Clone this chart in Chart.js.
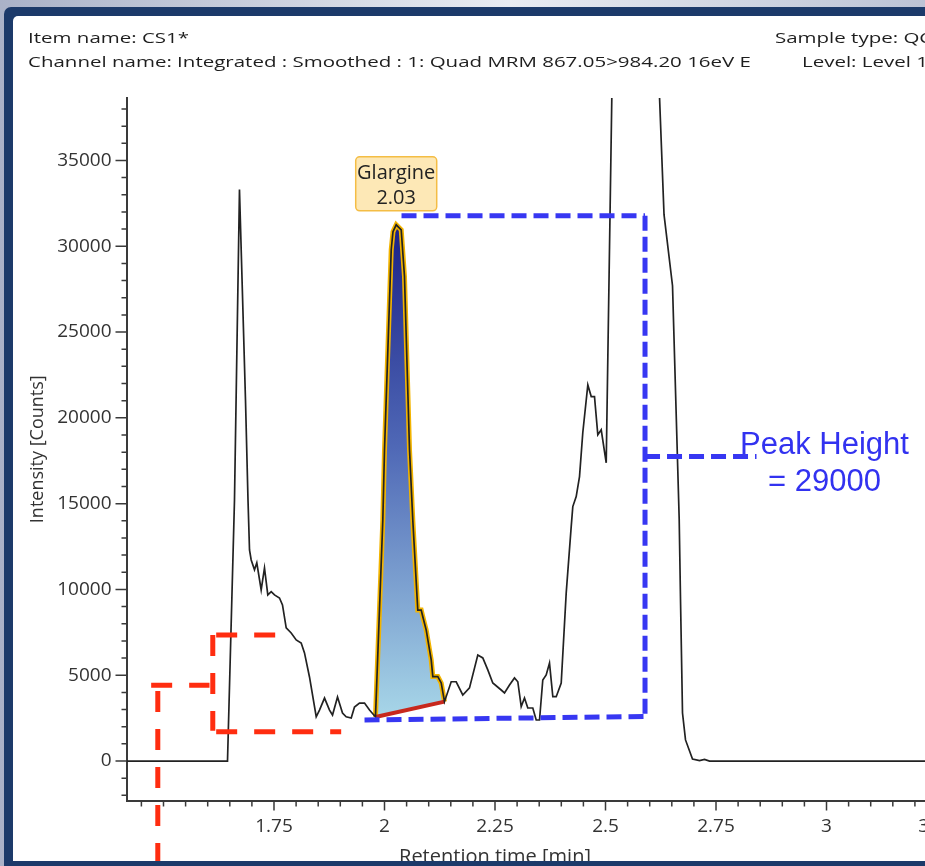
<!DOCTYPE html>
<html>
<head>
<meta charset="utf-8">
<title>Glargine peak height</title>
<script src="https://cdn.jsdelivr.net/npm/chart.js@4.4.1/dist/chart.umd.min.js"></script>
<style>
html, body { margin: 0; padding: 0; width: 925px; height: 866px; overflow: hidden; }
body { position: relative; background: linear-gradient(90deg, #aab2c8 0%, #e9ecf2 55%, #bcc3d5 100%); }
#frame { position: absolute; left: 4px; top: 7px; width: 960px; height: 880px; background: #1c3a6a; border-top-left-radius: 7px; }
#panel { position: absolute; left: 13px; top: 16px; width: 930px; height: 845px; background: #fff; border-top-left-radius: 5px; overflow: hidden; }
#chartbox { position: absolute; left: -13px; top: -16px; width: 1000px; height: 866px; }
.hdr { position: absolute; font: 15px/20px 'Open Sans', sans-serif; color: #1e1e1e; white-space: nowrap; transform-origin: 0 0; }
</style>
</head>
<body>
<div id="frame"></div>
<div id="panel"><div id="chartbox"><canvas id="chart"></canvas></div></div>
<div class="hdr" style="left:28px;top:27px">Item name: CS1*</div>
<div class="hdr" id="chan" style="left:28px;top:51px">Channel name: Integrated : Smoothed : 1: Quad MRM 867.05&gt;984.20 16eV E</div>
<div class="hdr" style="left:775px;top:27px">Sample type: QC</div>
<div class="hdr" style="left:802px;top:51px">Level: Level 1</div>
<script>
// retention time [min] and intensity [counts]
const times = [1.4163, 1.6448, 1.6606, 1.6719, 1.6855, 1.6912, 1.6946, 1.6984, 1.7059, 1.7111,
  1.7210, 1.7285, 1.7360, 1.7437, 1.7511, 1.7624, 1.7692, 1.7776, 1.7889, 1.8002,
  1.8115, 1.8190, 1.8303, 1.8455, 1.8529, 1.8643, 1.8756, 1.8824, 1.8937, 1.9050,
  1.9133, 1.9247, 1.9321, 1.9434, 1.9548, 1.9661, 1.9796,
  1.9962, 2.0000, 2.0152, 2.0192, 2.0265, 2.0378, 2.0452, 2.0566, 2.0640, 2.0753,
  2.0830, 2.0867, 2.0943, 2.1057, 2.1093, 2.1206, 2.1283, 2.1357,
  2.1509, 2.1622, 2.1771, 2.1923, 2.2111, 2.2224, 2.2337, 2.2450, 2.2640, 2.2715,
  2.2828, 2.2941, 2.3016, 2.3093, 2.3167, 2.3242, 2.3355, 2.3432, 2.3507, 2.3581,
  2.3658, 2.3733, 2.3808, 2.3885, 2.3998, 2.4111, 2.4224, 2.4260, 2.4337, 2.4412,
  2.4486, 2.4600, 2.4677, 2.4751, 2.4826, 2.4903, 2.5016,
  2.5452, 2.6324, 2.6516, 2.6667, 2.6697, 2.6742, 2.6810, 2.6968, 2.7127, 2.7240,
  2.7353, 3.3925];
const counts = [0, 0, 15200, 33300, 21050, 15200, 12300, 11720, 11140, 11550,
  9970, 11250, 9680, 9870, 9680, 9500, 9100, 7760, 7460, 7060,
  6880, 6300, 4900, 2580, 2970, 3670, 2970, 2680, 3730, 2800,
  2580, 2510, 3150, 3380, 3380, 2970, 2570,
  14050, 18130, 29800, 30850, 31250, 30960, 28240, 18130, 14050, 8800,
  8800, 8410, 7640, 5890, 4920, 4920, 4550, 3460,
  4620, 4620, 3850, 4260, 6180, 6010, 5310, 4550, 4140, 3970,
  4430, 4840, 4620, 3170, 3670, 3090, 3090, 2390, 2390, 4720,
  5020, 5710, 3750, 3750, 4550, 9800, 13660, 14830, 15410, 16580,
  19130, 21920, 21240, 21240, 19010, 19300, 17380,
  90600, 31840, 27700, 14110, 9390, 2800, 1230, 120, 30, 90,
  0, 0];

// integrated peak
const peakName = 'Glargine';
const peakRT = '2.03';
const peakStart = 1.9796;
const peakEnd = 2.1357;
const peakHeight = 29000;

// axis ranges and ticks
const xRange = [1.4163, 3.3925];
const yRange = [-2300, 38640];
const xTicks = [1.75, 2, 2.25, 2.5, 2.75, 3, 3.25];
const yTicks = [0, 5000, 10000, 15000, 20000, 25000, 30000, 35000];
const xMinor = 0.05, yMinor = 1000;

// hand-drawn markup, in [time, counts]
const blueBox = [[2.0385, 31780], [2.5894, 31780], [2.5894, 2595], [1.9548, 2391]];
const blueStub = [[2.5894, 17750], [2.8416, 17750]];
const blueText = [[2.9955, 17901, 'Peak Height'], [2.9955, 15744, '= ' + peakHeight]];
const redLines = [
  [[1.4721, 4414], [1.6041, 4414]],
  [[1.4871, 4082], [1.4871, -6200]],
  [[1.6115, 7347], [1.6115, 1767]],
  [[1.6192, 7347], [1.7534, 7347]],
  [[1.6192, 1709], [1.9020, 1709]]
];

// header text is drawn wide in the reference
const chan = document.getElementById('chan');
const sx = 723 / chan.getBoundingClientRect().width;
document.querySelectorAll('.hdr').forEach(h => h.style.transform = `scaleX(${sx})`);

const trace = times.map((t, i) => ({x: t, y: counts[i]}));
const peak = trace.filter(p => p.x >= peakStart && p.x <= peakEnd);
const baseline = [peak[0], peak[peak.length - 1]].map(p => ({x: p.x, y: p.y}));
const apex = peak.reduce((a, b) => (b.y > a.y ? b : a));

function peakGradient(c) {
    const chart = c.chart;
    if (!chart.chartArea) return '#5a74ba';
    const y = chart.scales.y;
    const g = chart.ctx.createLinearGradient(0, y.getPixelForValue(apex.y), 0, y.getPixelForValue(baseline[0].y));
    g.addColorStop(0, '#1b2187');
    g.addColorStop(0.45, '#4f68b6');
    g.addColorStop(1, '#a7d6e8');
    return g;
}

function dashed(ctx, pts, color, width, dash) {
    ctx.beginPath();
    ctx.setLineDash(dash);
    ctx.strokeStyle = color;
    ctx.lineWidth = width;
    ctx.lineCap = 'butt';
    pts.forEach((p, i) => (i ? ctx.lineTo(p[0], p[1]) : ctx.moveTo(p[0], p[1])));
    ctx.stroke();
}

const isMajor = (list, v) => list.some(m => Math.abs(m - v) < 1e-6);

// ===== minor ticks, peak label, markup =====
const decorations = {
    id: 'decorations',
    afterDraw(chart) {
        const {ctx, scales: {x, y}} = chart;
        const px = t => x.getPixelForValue(t);
        const py = v => y.getPixelForValue(v);
        ctx.save();

        // tick marks (major long, minor short)
        ctx.strokeStyle = '#3a3a3a';
        ctx.lineWidth = 1.5;
        ctx.beginPath();
        for (let i = Math.ceil(x.min / xMinor); i * xMinor <= x.max; i++) {
            const t = i * xMinor, X = px(t);
            ctx.moveTo(X, x.top);
            ctx.lineTo(X, x.top + (isMajor(xTicks, t) ? 10 : 6));
        }
        for (let i = Math.ceil(y.min / yMinor); i * yMinor <= y.max; i++) {
            const v = i * yMinor, Y = py(v);
            ctx.moveTo(y.right, Y);
            ctx.lineTo(y.right - (isMajor(yTicks, v) ? 11 : 5), Y);
        }
        ctx.stroke();

        // x axis title
        ctx.fillStyle = '#333';
        ctx.font = '20px "Open Sans"';
        ctx.textAlign = 'center';
        ctx.textBaseline = 'alphabetic';
        ctx.fillText('Retention time [min]', 495, 863);

        // peak label
        const ax = px(apex.x), ay = py(apex.y);
        const w = 81, h = 54, r = 4, bx = ax - w / 2, by = ay - 14 - h;
        ctx.beginPath();
        ctx.moveTo(bx + r, by);
        ctx.arcTo(bx + w, by, bx + w, by + h, r);
        ctx.arcTo(bx + w, by + h, bx, by + h, r);
        ctx.arcTo(bx, by + h, bx, by, r);
        ctx.arcTo(bx, by, bx + w, by, r);
        ctx.closePath();
        ctx.fillStyle = '#fde8b6';
        ctx.fill();
        ctx.strokeStyle = '#f4bd45';
        ctx.lineWidth = 1.5;
        ctx.stroke();
        ctx.fillStyle = '#222';
        ctx.font = '20px "Open Sans"';
        ctx.fillText(peakName, ax, by + 22);
        ctx.fillText(peakRT, ax, by + 47);

        // markup
        const toPx = pts => pts.map(p => [px(p[0]), py(p[1])]);
        const blue = '#3737f2';
        dashed(ctx, toPx(blueBox.slice(0, 2)), blue, 5, [15, 7]);
        dashed(ctx, toPx(blueBox.slice(1, 3)), blue, 5, [15, 6]);
        dashed(ctx, toPx([blueBox[3], blueBox[2]]), blue, 5, [15, 7]);
        dashed(ctx, toPx(blueStub), blue, 5, [15, 7]);
        redLines.forEach(l => dashed(ctx, toPx(l), '#ff2d10', 5, [21, 17]));

        ctx.setLineDash([]);
        ctx.fillStyle = '#3232f0';
        ctx.font = '31px "Liberation Sans"';
        blueText.forEach(tx => ctx.fillText(tx[2], px(tx[0]), py(tx[1])));
        ctx.restore();
    }
};

const tickFont = {family: 'Open Sans', size: 19};

new Chart(document.getElementById('chart'), {
    type: 'line',
    data: {
        datasets: [
            { label: 'Trace', data: trace, borderColor: '#222', borderWidth: 1.7, pointRadius: 0, tension: 0, fill: false },
            { label: 'Baseline', data: baseline, borderColor: '#c8281c', borderWidth: 4, pointRadius: 0, fill: false },
            { label: peakName, data: peak, borderColor: '#f2b400', borderWidth: 5, pointRadius: 0, tension: 0, fill: 1, backgroundColor: peakGradient }
        ]
    },
    options: {
        responsive: true,
        maintainAspectRatio: false,
        animation: false,
        layout: { padding: { top: 98, left: 0, right: 0, bottom: 0 } },
        plugins: { legend: { display: false }, tooltip: { enabled: false } },
        scales: {
            x: {
                type: 'linear', min: xRange[0], max: xRange[1],
                grid: { display: false, tickLength: 10 },
                border: { color: '#3a3a3a', width: 2 },
                afterBuildTicks: s => { s.ticks = xTicks.map(v => ({value: v})); },
                ticks: { autoSkip: false, maxRotation: 0, padding: 5, color: '#333', font: tickFont,
                    callback: v => String(v) },
                afterFit: s => { s.height = 65.5; }
            },
            y: {
                type: 'linear', min: yRange[0], max: yRange[1],
                grid: { display: false, tickLength: 11 },
                border: { color: '#3a3a3a', width: 2 },
                afterBuildTicks: s => { s.ticks = yTicks.map(v => ({value: v})); },
                ticks: { autoSkip: false, padding: 4, color: '#333', font: tickFont,
                    callback: v => String(v) },
                title: { display: true, text: 'Intensity [Counts]', color: '#333', font: {family: 'Open Sans', size: 18}, padding: {top: 27, bottom: 0} },
                afterFit: s => { s.width = 126.5; }
            }
        }
    },
    plugins: [decorations]
});
</script>
</body>
</html>
